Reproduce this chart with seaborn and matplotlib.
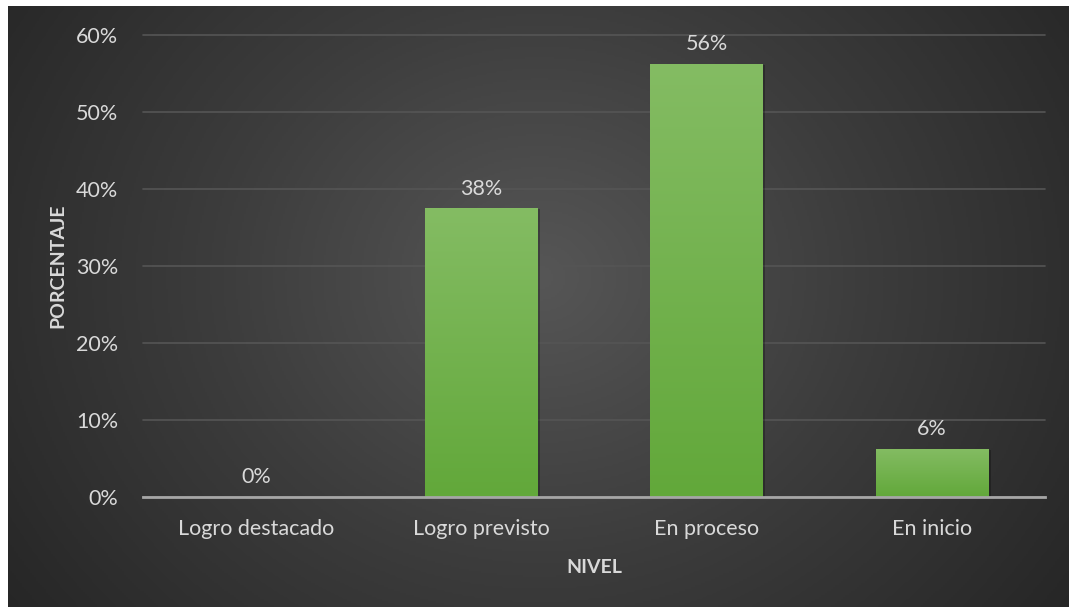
import numpy as np
import pandas as pd
import matplotlib
matplotlib.use("Agg")
import matplotlib.pyplot as plt
from matplotlib.colors import LinearSegmentedColormap
import seaborn as sns

categories = ["Logro destacado", "Logro previsto", "En proceso", "En inicio"]
values = [0.0, 0.375, 0.5625, 0.0625]
value_labels = ["0%", "38%", "56%", "6%"]
yticks = [0.0, 0.1, 0.2, 0.3, 0.4, 0.5, 0.6]
ytick_labels = ["0%", "10%", "20%", "30%", "40%", "50%", "60%"]

sns.set_theme(style="white")
plt.rcParams["font.family"] = ["Lato", "DejaVu Sans"]

W, H = 1069, 607
fig = plt.figure(figsize=(W / 100, H / 100), dpi=100, facecolor="white")

# dark radial background
bx0, by1 = 8, 6
bg = fig.add_axes([bx0 / W, 0, 1 - bx0 / W, 1 - by1 / H])
bg.set_axis_off()
ny, nx = 300, 530
yy, xx = np.mgrid[0:ny, 0:nx]
cx, cy = nx * 0.5, ny * 0.45
d = np.sqrt(((xx - cx) / (nx * 0.62)) ** 2 + ((yy - cy) / (ny * 0.95)) ** 2)
d = np.clip(d, 0, 1)
bgcmap = LinearSegmentedColormap.from_list("bg", ["#565656", "#3c3c3c", "#262626"])
bg.imshow(d, cmap=bgcmap, aspect="auto", extent=(0, 1, 0, 1), vmin=0, vmax=1)
bg.set_xlim(0, 1)
bg.set_ylim(0, 1)

# plot axes
left, right = 143 / W, 1045 / W
bottom, top = (H - 497) / H, (H - 35) / H
ax = fig.add_axes([left, bottom, right - left, top - bottom])
ax.patch.set_alpha(0)

df = pd.DataFrame({"Nivel": categories, "Porcentaje": values})
sns.barplot(data=df, x="Nivel", y="Porcentaje", ax=ax, color="#70AD47",
            width=0.5, saturation=1, zorder=3, linewidth=0, edgecolor="none")

ax.set_ylim(0, 0.6)
ax.set_xlim(-0.5, 3.5)

gcmap = LinearSegmentedColormap.from_list("g", ["#62A83A", "#84BC63"])
grad = np.linspace(0, 1, 256).reshape(-1, 1)
for p in list(ax.patches):
    x0, w, h = p.get_x(), p.get_width(), p.get_height()
    if h <= 0:
        continue
    ax.add_patch(plt.Rectangle((x0 + 0.006, 0), w + 0.004, h - 0.001,
                               facecolor="black", alpha=0.25, zorder=2,
                               edgecolor="none"))
    p.set_facecolor("none")
    p.set_edgecolor("none")
    im = ax.imshow(grad, cmap=gcmap, origin="lower", aspect="auto",
                   extent=(x0, x0 + w, 0, h), zorder=3)
    im.set_clip_path(p)
ax.set_xlim(-0.5, 3.5)
ax.set_ylim(0, 0.6)

FS = 15.5
for i, (v, lab) in enumerate(zip(values, value_labels)):
    ax.annotate(lab, (i, v), xytext=(0, 7), textcoords="offset points",
                ha="center", va="bottom", color="#D9D9D9", fontsize=FS)

ax.set_yticks(yticks)
ax.set_yticklabels(ytick_labels)
ax.grid(axis="y", color="#555555", linewidth=1.2, zorder=0)
ax.grid(axis="x", visible=False)
for g in ax.get_ygridlines():
    g.set_clip_on(False)
for s in ["top", "right", "left"]:
    ax.spines[s].set_visible(False)
ax.spines["bottom"].set_color("#A6A6A6")
ax.spines["bottom"].set_linewidth(2)
ax.spines["bottom"].set_zorder(4)
ax.tick_params(axis="both", length=0, colors="#D9D9D9", labelsize=FS)
ax.tick_params(axis="x", pad=16)
ax.tick_params(axis="y", pad=18)

ax.set_xlabel("NIVEL", color="#D9D9D9", fontsize=14, fontweight="bold", labelpad=14)
ax.set_ylabel("PORCENTAJE", color="#D9D9D9", fontsize=14, fontweight="bold", labelpad=7)

fig.savefig("out.png", dpi=100, facecolor="white")
